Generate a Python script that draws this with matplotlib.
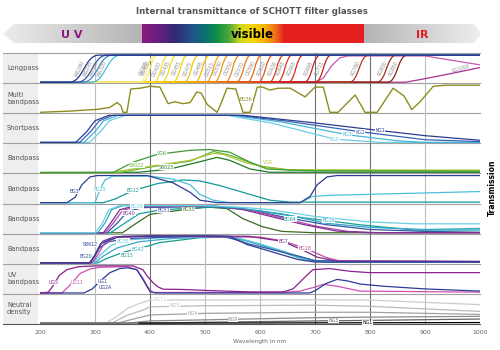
import matplotlib
matplotlib.use("Agg")
import matplotlib.pyplot as plt
import numpy as np
from matplotlib.path import Path
from matplotlib.patches import PathPatch, Polygon, Rectangle
from matplotlib.colors import LinearSegmentedColormap

# ---- data (wavelength in nm, internal transmittance 0..1) ----
wl_ticks = [200, 300, 400, 500, 600, 700, 800, 900, 1000]
row_names = ["Longpass", "Multi\nbandpass", "Shortpass", "Bandpass", "Bandpass",
             "Bandpass", "Bandpass", "UV\nbandpass", "Neutral\ndensity"]

# longpass: 50 % edge and edge width
lp_names = ["WG280", "WG295", "WG305", "WG320",
            "GG395", "GG400", "GG420", "GG435", "GG455", "GG475", "GG495",
            "OG515", "OG530", "OG550", "OG570", "OG590",
            "RG610", "RG630", "RG645", "RG665", "RG695", "RG715",
            "RG780", "RG830", "RG850"]
lp_cut = [280, 295, 305, 320, 395, 400, 420, 435, 455, 475, 495,
          515, 530, 550, 570, 590, 610, 630, 645, 665, 695, 715, 780, 830, 850]
lp_width = [55, 55, 55, 55, 28, 28, 28, 28, 28, 28, 28,
            28, 28, 28, 28, 28, 28, 28, 28, 28, 30, 30, 36, 36, 36]
rg9_wl = [200, 700, 715, 730, 745, 760, 900, 1000]
rg9_t = [0, 0, 0.15, 0.6, 0.9, 0.97, 0.97, 0.64]
rg1000_wl = [200, 865, 900, 950, 1000]
rg1000_t = [0, 0, 0.13, 0.33, 0.54]

bg36_wl = [200, 249, 304, 327, 340, 347, 351, 358, 365, 382, 400, 418, 425, 433, 445, 460,
           473, 485, 493, 504, 522, 529, 540, 556, 569, 582, 595, 605, 618, 633, 655, 682,
           700, 715, 727, 742, 773, 791, 813, 842, 862, 876, 891, 915, 936, 1000]
bg36_t = [0, 0.04, 0.11, 0.18, 0.36, 0.25, 0, 0, 0.86, 0.89, 0.96, 0.93, 0.64, 0.32, 0.39, 0.32,
          0.36, 0.75, 0.71, 0.29, 0, 0.32, 0.89, 0.86, 0, 0, 0.93, 0.93, 0.82, 0.89, 0.89, 0.57,
          0.93, 0.93, 0, 0, 0.64, 0, 0, 0.89, 0.6, 0.1, 0.39, 0.96, 1, 1]

shortpass = {
    "KG5": ([200, 290, 310, 326, 355, 540, 620, 736, 820, 1000], [0, 0, 0.4, 0.8, 1, 1, 0.72, 0.12, 0, 0]),
    "KG3": ([200, 280, 300, 316, 342, 550, 640, 760, 850, 900, 1000], [0, 0, 0.4, 0.8, 1, 1, 0.75, 0.28, 0.06, 0, 0]),
    "KG2": ([200, 272, 292, 308, 332, 560, 650, 780, 900, 1000], [0, 0, 0.4, 0.8, 1, 1, 0.78, 0.4, 0.1, 0.03]),
    "KG1": ([200, 265, 285, 300, 325, 570, 700, 800, 900, 1000], [0, 0, 0.4, 0.8, 1, 1, 0.72, 0.48, 0.25, 0.08]),
}

bandpass_vg = {
    "S8023": ([200, 380, 436, 473, 522, 545, 582, 618, 1000], [0, 0.01, 0.13, 0.31, 0.56, 0.45, 0.13, 0.01, 0.01]),
    "S8022": ([200, 345, 400, 473, 515, 545, 600, 655, 1000], [0, 0, 0.2, 0.42, 0.78, 0.64, 0.24, 0.09, 0.05]),
    "VG9": ([200, 327, 413, 473, 515, 533, 576, 618, 655, 1000], [0, 0, 0.27, 0.45, 0.71, 0.67, 0.35, 0.16, 0.1, 0.09]),
    "VG6": ([200, 333, 369, 413, 473, 509, 545, 582, 613, 655, 700, 1000],
            [0, 0, 0.38, 0.67, 0.82, 0.85, 0.75, 0.38, 0.13, 0.09, 0.06, 0.05]),
}

bandpass_bg_a = {
    "BG12": ([200, 315, 336, 358, 382, 413, 460, 491, 527, 564, 618, 655, 1000],
             [0, 0, 0.13, 0.34, 0.52, 0.7, 0.84, 0.8, 0.63, 0.41, 0.09, 0.02, 0.02]),
    "BG25": ([200, 300, 309, 318, 333, 400, 442, 473, 491, 515, 545, 673, 696, 727, 1000],
             [0, 0, 0.48, 0.84, 0.98, 0.98, 0.87, 0.66, 0.3, 0.09, 0, 0, 0.23, 0.27, 0.41]),
    "BG3": ([200, 249, 264, 276, 291, 304, 395, 442, 473, 491, 522, 673, 691, 704, 722, 740, 1000],
            [0, 0, 0.2, 0.66, 0.95, 1, 1, 0.73, 0.38, 0.09, 0, 0, 0.23, 0.66, 0.95, 1, 1]),
}

bandpass_bg_b = {
    "BG55": ([200, 350, 375, 400, 442, 473, 504, 540, 569, 605, 640, 700, 1000],
             [0, 0, 0.35, 0.68, 0.8, 0.88, 0.95, 0.89, 0.52, 0.22, 0.05, 0, 0]),
    "BG64": ([200, 328, 350, 380, 420, 520, 600, 680, 780, 880, 1000],
             [0, 0, 0.3, 0.7, 0.85, 0.95, 0.8, 0.55, 0.3, 0.1, 0.1]),
    "BG51": ([200, 322, 340, 360, 390, 520, 580, 650, 720, 800, 900, 1000],
             [0, 0, 0.35, 0.8, 0.93, 0.97, 0.85, 0.55, 0.3, 0.12, 0.05, 0.02]),
    "BG50": ([200, 318, 333, 350, 375, 520, 580, 640, 700, 760, 820, 1000],
             [0, 0, 0.35, 0.82, 0.96, 0.98, 0.85, 0.55, 0.25, 0.05, 0, 0]),
    "BG40": ([200, 315, 330, 345, 370, 500, 560, 620, 680, 740, 800, 1000],
             [0, 0, 0.4, 0.85, 0.98, 1, 0.9, 0.6, 0.3, 0.06, 0, 0]),
    "BG39": ([200, 305, 318, 330, 350, 500, 560, 640, 720, 800, 900, 1000],
             [0, 0, 0.35, 0.85, 1, 1, 0.92, 0.7, 0.35, 0.2, 0.12, 0.16]),
    "BG38": ([200, 300, 312, 325, 345, 500, 560, 620, 700, 800, 880, 1000],
             [0, 0, 0.3, 0.85, 1, 1, 0.95, 0.85, 0.6, 0.4, 0.33, 0.33]),
}

bandpass_bg_c = {
    "BG13": ([200, 305, 320, 351, 387, 418, 491, 540, 580, 620, 660, 700, 740, 1000],
             [0, 0, 0.15, 0.39, 0.57, 0.75, 0.93, 0.95, 0.8, 0.55, 0.3, 0.08, 0.02, 0.02]),
    "BG42": ([200, 300, 315, 340, 380, 440, 520, 560, 600, 640, 680, 720, 1000],
             [0, 0, 0.25, 0.55, 0.78, 0.9, 0.96, 0.9, 0.66, 0.4, 0.12, 0.02, 0.02]),
    "BG35": ([200, 297, 310, 330, 360, 420, 520, 560, 600, 640, 680, 720, 1000],
             [0, 0, 0.3, 0.65, 0.85, 0.93, 0.97, 0.92, 0.7, 0.45, 0.15, 0.04, 0.04]),
    "BG20": ([200, 290, 298, 308, 325, 360, 480, 540, 580, 620, 660, 700, 1000],
             [0, 0, 0.2, 0.55, 0.78, 0.9, 0.98, 0.95, 0.7, 0.5, 0.3, 0.08, 0.05]),
    "BG18": ([200, 295, 305, 318, 340, 400, 600, 640, 682, 720, 745, 1000],
             [0, 0, 0.3, 0.75, 0.93, 0.98, 0.95, 0.82, 0.54, 0.2, 0.07, 0.05]),
    "BG7": ([200, 292, 302, 314, 335, 400, 580, 642, 680, 704, 740, 1000],
            [0, 0, 0.35, 0.8, 0.96, 1, 0.98, 0.79, 0.45, 0.21, 0.06, 0.05]),
    "S8612": ([200, 290, 300, 310, 327, 350, 510, 545, 576, 613, 636, 670, 700, 1000],
              [0, 0, 0.3, 0.7, 0.86, 0.98, 1, 0.98, 0.68, 0.46, 0.32, 0.12, 0.03, 0.03]),
}

uv_bandpass = {
    "UG11": ([200, 240, 255, 273, 290, 309, 358, 376, 387, 395, 405, 640, 673, 700, 715, 740, 782, 1000],
             [0, 0, 0.3, 0.72, 0.88, 0.95, 0.97, 0.86, 0.55, 0.25, 0.02, 0.02, 0.07, 0.22, 0.32, 0.25, 0.07, 0.03]),
    "UG1": ([200, 280, 295, 310, 327, 345, 360, 376, 387, 400, 410, 690, 700, 720, 740, 758, 782, 824, 900, 1000],
            [0, 0, 0.15, 0.45, 0.75, 0.9, 0.93, 0.86, 0.5, 0.05, 0, 0, 0.08, 0.35, 0.5, 0.45, 0.33, 0.25, 0.15, 0.07]),
    "UG5": ([200, 215, 225, 235, 249, 270, 300, 369, 387, 395, 405, 415, 424, 460, 520, 582, 642, 660, 680,
             696, 727, 764, 800, 1000],
            [0, 0.03, 0.3, 0.65, 0.86, 0.97, 1, 1, 0.86, 0.62, 0.39, 0.22, 0.14, 0.13, 0.08, 0.04, 0.04, 0.15,
             0.55, 0.86, 0.9, 0.8, 0.75, 0.75]),
}

neutral = {
    "NG11": ([200, 320, 340, 360, 380, 400, 700, 800, 1000], [0, 0, 0.25, 0.55, 0.72, 0.85, 0.86, 0.85, 0.68]),
    "NG5": ([200, 330, 360, 390, 400, 500, 700, 800, 1000], [0, 0, 0.3, 0.5, 0.6, 0.64, 0.66, 0.62, 0.43]),
    "NG4": ([200, 340, 380, 400, 500, 700, 800, 1000], [0, 0, 0.2, 0.3, 0.36, 0.4, 0.4, 0.32]),
    "NG9": ([200, 360, 400, 500, 700, 800, 1000], [0, 0, 0.08, 0.12, 0.2, 0.22, 0.25]),
    "NG3": ([200, 400, 500, 700, 800, 1000], [0, 0, 0.03, 0.08, 0.1, 0.15]),
    "NG1": ([380, 600, 1000], [0, 0.005, 0.02]),
}

# ---- styles ----
lp_colors = ["#24348c", "#2f55a8", "#3d86c8", "#4bb8e0",
             "#f8ee90", "#f7e860", "#f5e22a", "#f4dc10", "#f4d000", "#f4c200", "#f3b400",
             "#f4a518", "#f29414", "#f08410", "#ee740c", "#ec640a",
             "#e8501a", "#e53e1c", "#e2301e", "#dc2420", "#d01e22", "#c41c22",
             "#b0361e", "#9c2a1a", "#8a2016"]
colors = {"KG1": "#2c3d92", "KG2": "#3a62b4", "KG3": "#48b4d8", "KG5": "#6ccde4",
          "VG6": "#3f9a35", "VG9": "#a8c838", "S8022": "#6ab43a", "S8023": "#1d7a2a",
          "BG3": "#2c3d92", "BG25": "#4cc0d8", "BG12": "#13999a",
          "BG38": "#6cd0e2", "BG39": "#30a6c6", "BG40": "#7e2e90", "BG50": "#b44aa8",
          "BG51": "#3556a6", "BG64": "#18a0a0", "BG55": "#3c6a22",
          "S8612": "#2c3d92", "BG7": "#7a2a8a", "BG18": "#c04aa8", "BG20": "#3556a6",
          "BG35": "#60c8e0", "BG42": "#3aa8c8", "BG13": "#1a9a90",
          "UG5": "#8a2090", "UG11": "#d050b0", "UG1": "#2a3a9a",
          "NG11": "#cccccc", "NG5": "#bbbbbb", "NG4": "#a2a2a2", "NG9": "#8a8a8a",
          "NG3": "#646464", "NG1": "#000000"}


def ty(row, t):
    return (8 - row) + 0.03 + 0.9 * np.asarray(t, dtype=float)


W, H = 500, 350
fig = plt.figure(figsize=(5, 3.5), dpi=100)
ax = fig.add_axes([40 / W, 1 - 324 / H, 440 / W, 271 / H])
ax.set_xlim(200, 1000)
ax.set_ylim(0, 9)
for s in ax.spines.values():
    s.set_visible(False)
ax.set_yticks([])
ax.set_xticks(wl_ticks)
ax.tick_params(axis="x", length=0, pad=4, labelsize=4.5, labelcolor="#666666")
ax.set_xlabel("Wavelength in nm", fontsize=4.2, color="#666666", labelpad=3)

# label column + separators + grid
for k in range(9):
    ax.add_patch(Rectangle((133, k), 63.5, 1, fc="#eeeeee", ec="none", clip_on=False, zorder=0))
for k in range(10):
    ax.plot([133, 1000], [k, k], color="#555555" if k == 0 else "#a0a0a0", lw=0.8,
            clip_on=False, zorder=1)
for w in wl_ticks[1:-1]:
    ax.axvline(w, color="#707070" if w in (400, 700, 800) else "#bdbdbd", lw=0.8, zorder=1)

lw = 0.9
lbl = dict(fontsize=3.4, ha="center", va="center", zorder=6,
           bbox=dict(fc="white", ec="none", pad=0.2))

# longpass
ax.plot(rg1000_wl, ty(0, rg1000_t), color="#a63090", lw=lw, zorder=3)
ax.plot(rg9_wl, ty(0, rg9_t), color="#c65aae", lw=lw, zorder=3)
for name, cut, wdt, col in reversed(list(zip(lp_names, lp_cut, lp_width, lp_colors))):
    y0, y1 = ty(0, 0), ty(0, 1)
    verts = [(200, y0), (cut - wdt / 2, y0), (cut, y0), (cut, y1), (cut + wdt / 2, y1), (1000, y1)]
    codes = [Path.MOVETO, Path.LINETO, Path.CURVE4, Path.CURVE4, Path.CURVE4, Path.LINETO]
    ax.add_patch(PathPatch(Path(verts, codes), fc="none", ec=col, lw=lw, zorder=3))
    ax.text(cut - 7, ty(0, 0.5), name, rotation=65, fontsize=3.3, color="#8a8a8a",
            ha="center", va="center", zorder=5)
ax.text(965, ty(0, 0.5), "RG1000", rotation=18, fontsize=3.3, color="#8a8a8a",
        ha="center", va="center", zorder=5)

# multi bandpass
ax.plot(bg36_wl, ty(1, bg36_t), color="#8c8c1e", lw=1.0, zorder=3)
ax.text(575, ty(1, 0.46), "BG36", color="#8c8c1e", **lbl)


def draw_row(row, curves):
    for name, (wl, t) in curves.items():
        ax.plot(wl, ty(row, t), color=colors[name], lw=lw, zorder=3)


draw_row(2, shortpass)
draw_row(3, bandpass_vg)
draw_row(4, bandpass_bg_a)
draw_row(5, bandpass_bg_b)
draw_row(6, bandpass_bg_c)
draw_row(7, uv_bandpass)
draw_row(8, neutral)

labels = [
    (2, "KG1", 818, 0.44), (2, "KG2", 782, 0.38), (2, "KG3", 758, 0.28), (2, "KG5", 736, 0.12),
    (3, "VG6", 422, 0.72), (3, "S8022", 376, 0.27), (3, "S8023", 430, 0.2), (3, "VG9", 615, 0.38),
    (4, "BG3", 262, 0.41), (4, "BG25", 309, 0.48), (4, "BG12", 369, 0.45),
    (5, "BG38", 376, 0.97), (5, "BG40", 362, 0.72), (5, "BG51", 425, 0.82), (5, "BG55", 470, 0.86),
    (5, "BG64", 655, 0.5), (5, "BG39", 725, 0.45),
    (6, "S8612", 292, 0.68), (6, "BG20", 283, 0.25), (6, "BG35", 351, 0.8), (6, "BG42", 378, 0.5),
    (6, "BG13", 358, 0.29), (6, "BG7", 642, 0.79), (6, "BG18", 682, 0.54),
    (7, "UG5", 224, 0.39), (7, "UG11", 268, 0.39), (7, "UG1", 313, 0.43), (7, "UG2A", 318, 0.2),
    (8, "NG11", 418, 0.86), (8, "NG5", 445, 0.64), (8, "NG4", 478, 0.36), (8, "NG9", 551, 0.14),
    (8, "NG3", 733, 0.09), (8, "NG1", 795, 0.03),
]
for row, name, w, t in labels:
    c = colors.get(name, "#3556a6")
    if name == "UG2A":
        c = colors["UG1"]
    ax.text(w, ty(row, t), name, color=c, **lbl)

# ---- overlay in pixel coordinates: banner, titles, row names ----
ov = fig.add_axes([0, 0, 1, 1])
ov.patch.set_visible(False)
ov.axis("off")

grad = np.linspace(0, 1, 256).reshape(1, -1)
uv_poly = Polygon([(3, 34), (14, 24), (142, 24), (142, 43), (14, 43)], closed=True,
                  fc="none", ec="none", transform=ov.transData)
ov.add_patch(uv_poly)
im = ov.imshow(grad, extent=(3, 142, 43, 24), aspect="auto",
               cmap=LinearSegmentedColormap.from_list("uv", ["#ececec", "#b4b4b4"]))
im.set_clip_path(uv_poly)

spec_stops = [(0.0, "#8a1a7c"), (0.07, "#6a1f80"), (0.15, "#2f2b72"), (0.22, "#274f8b"),
              (0.275, "#0a6c78"), (0.33, "#0c8a4a"), (0.39, "#4aa83a"), (0.44, "#c8d820"),
              (0.495, "#f5d800"), (0.555, "#f5b000"), (0.605, "#ee6a1e"), (0.64, "#e3201f"),
              (1.0, "#e3201f")]
ov.imshow(grad, extent=(142, 364, 43, 24), aspect="auto",
          cmap=LinearSegmentedColormap.from_list("spec", spec_stops))

ir_poly = Polygon([(364, 24), (474, 24), (481, 34), (474, 43), (364, 43)], closed=True,
                  fc="none", ec="none", transform=ov.transData)
ov.add_patch(ir_poly)
im2 = ov.imshow(grad, extent=(364, 481, 43, 24), aspect="auto",
                cmap=LinearSegmentedColormap.from_list("ir", ["#b4b4b4", "#eeeeee"]))
im2.set_clip_path(ir_poly)

ov.set_xlim(0, W)
ov.set_ylim(H, 0)

ov.text(72, 34.5, "U V", color="#8b1a7e", fontsize=8, fontweight="bold", ha="center", va="center")
ov.text(252, 34.5, "visible", color="black", fontsize=8.5, fontweight="bold", ha="center", va="center")
ov.text(422, 34.5, "IR", color="#e31e24", fontsize=8, fontweight="bold", ha="center", va="center")
ov.text(252, 12, "Internal transmittance of SCHOTT filter glasses", color="#555555",
        fontsize=6.2, fontweight="bold", ha="center", va="center")
ov.text(492, 188, "Transmission", rotation=90, fontsize=5.5, fontweight="bold",
        ha="center", va="center", color="black")

row_h = (324 - 53) / 9
for i, name in enumerate(row_names):
    ov.text(7, 53 + row_h * (i + 0.5), name, fontsize=4.8, color="#555555",
            ha="left", va="center", linespacing=1.2)

fig.savefig("out.png", dpi=100)
